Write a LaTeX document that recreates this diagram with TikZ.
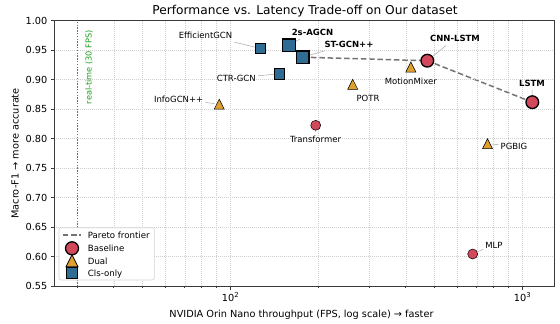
\documentclass[tikz,border=0pt]{standalone}
\usepackage{fontspec}
\setmainfont{DejaVu Sans}
\pgfdeclarelayer{bg}
\pgfsetlayers{bg,main}
\definecolor{cbase}{HTML}{D1495B}
\definecolor{cdual}{HTML}{DFA02E}
\definecolor{ccls}{HTML}{2E6C93}
\definecolor{gridc}{HTML}{CFCFCF}
\definecolor{paretoc}{HTML}{737373}
\definecolor{rtc}{HTML}{1E9A1E}
\definecolor{rtline}{HTML}{1FA51F}
\definecolor{framec}{HTML}{3A3A3A}
\tikzset{
  lbl/.style={font=\fontsize{8.5}{10}\selectfont, inner sep=2pt, text height=0.85em, text depth=0.13em},
  blbl/.style={lbl, font=\fontsize{8.5}{10}\selectfont\bfseries},
  leader/.style={draw=gray!70, line width=0.5pt},
  mkr/.style={draw=black, line width=0.5pt, inner sep=0pt, outer sep=0pt},
  basesm/.style={mkr, circle, fill=cbase, minimum size=10pt},
  basebig/.style={mkr, circle, fill=cbase, minimum size=12.7pt, line width=1.3pt},
  clssm/.style={mkr, rectangle, fill=ccls, minimum size=10.3pt},
  clsbig/.style={mkr, rectangle, fill=ccls, minimum size=12.5pt, line width=1.3pt},
  tnode/.style={circle, minimum size=9pt, inner sep=0pt},
  dualfill/.style={fill=cdual, draw=black, line width=0.5pt, line join=miter},
  ticklbl/.style={font=\fontsize{9.75}{11}\selectfont, text height=0.73em, text depth=0pt, inner sep=0pt},
  gridl/.style={draw=gridc, line width=0.45pt, dash pattern=on 0.9pt off 1.1pt},
  pareto/.style={draw=paretoc, line width=1.5pt, dash pattern=on 5.5pt off 2.8pt},
  legtxt/.style={font=\fontsize{8.6}{10}\selectfont, anchor=west, inner sep=0pt, text height=0.73em, text depth=0pt},
}
\newcommand{\dualmark}[3]{%
  \node[tnode] (#1) at (#2,#3) {};
  \draw[dualfill] (#2,#3) ++(0,-5) -- ++(5,10) -- ++(-10,0) -- cycle;}
\begin{document}
\begin{tikzpicture}[x=1pt,y=-1pt]
\useasboundingbox (0,0) rectangle (560,324);

% grid
\foreach \f in {40,50,60,70,80,90,100,200,300,400,500,600,700,800,900,1000}{
  \pgfmathsetmacro{\gx}{230+292*(log10(\f)-2)}
  \draw[gridl] (\gx,20.7) -- (\gx,286);
}
\foreach \v in {0.60,0.65,0.70,0.75,0.80,0.85,0.90,0.95}{
  \pgfmathsetmacro{\gy}{20.7+(1-\v)*590}
  \draw[gridl] (54,\gy) -- (554,\gy);
}
% real-time line (dotted, drawn as green dots)
\foreach \i in {0,...,94}{
  \fill[rtline] (76.9,{21.8+\i*2.8}) rectangle ++(1.3,1.4);
}

% title
\node[font=\fontsize{12.2}{14}\selectfont, anchor=base, inner sep=0pt] (title) at (305,15) {Performance vs. Latency Trade-off on Our dataset};

% markers
\node[clssm] (effgcn) at (260.3,48.5) {};
\node[clssm] (ctrgcn) at (279.5,73.7) {};
\node[clsbig] (agcn) at (289,45.3) {};
\node[clsbig] (stgcn) at (302.7,57.2) {};
\node[basebig] (cnnlstm) at (427.3,60.7) {};
\node[basebig] (lstm) at (532.3,102.2) {};
\node[basesm] (transf) at (315.7,125.3) {};
\node[basesm] (mlp) at (472.7,254) {};
\dualmark{infogcn}{219.2}{104.2}
\dualmark{mmixer}{410.9}{67}
\dualmark{potr}{352.7}{84.3}
\dualmark{pgbig}{487.5}{143.7}

% labels
\node[lbl] (l-eff) at (205.5,35) {EfficientGCN};
\node[lbl] (l-ctr) at (236.3,78) {CTR-GCN};
\node[lbl] (l-info) at (178.7,99) {InfoGCN++};
\node[blbl] (l-agcn) at (312.5,31.7) {2s-AGCN};
\node[blbl] (l-st) at (349,43.7) {ST-GCN++};
\node[blbl] (l-cnn) at (455,38.3) {CNN-LSTM};
\node[blbl] (l-lstm) at (532,83) {LSTM};
\node[lbl] (l-mm) at (410.8,80.8) {MotionMixer};
\node[lbl] (l-potr) at (368,98) {POTR};
\node[lbl] (l-tr) at (315.5,139.3) {Transformer};
\node[lbl] (l-pg) at (514,146) {PGBIG};
\node[lbl] (l-mlp) at (494,244.5) {MLP};

% real-time label
\node[font=\fontsize{8.2}{10}\selectfont, text=rtc, rotate=90, anchor=east, inner sep=0pt, text height=0.73em, text depth=0pt] (rt) at (88,30) {real-time (30 FPS)};

\begin{pgfonlayer}{bg}
  % pareto frontier
  \draw[pareto] (stgcn.center) -- (cnnlstm.center) -- (lstm.center);
  % leaders
  \draw[leader] (l-eff) -- (effgcn);
  \draw[leader] (l-ctr) -- (ctrgcn);
  \draw[leader] (l-info) -- (infogcn);
  \draw[leader] (l-agcn) -- (agcn);
  \draw[leader] (l-st) -- (stgcn);
  \draw[leader] (l-cnn) -- (cnnlstm);
  \draw[leader] (l-lstm) -- (lstm);
  \draw[leader] (l-tr) -- (transf);
  \draw[leader] (l-pg) -- (pgbig);
  \draw[leader] (l-mlp) -- (mlp);
\end{pgfonlayer}

% legend
\node[draw=gray!35, fill=white, rounded corners=2pt, minimum width=95.3pt, minimum height=52.3pt, inner sep=0pt, line width=0.6pt] (legend) at (106.65,253.85) {};
\coordinate (lg-d1) at (62.7,235);
\coordinate (lg-d2) at (81,235);
\draw[pareto] (lg-d1) -- (lg-d2);
\node[legtxt] (lg-t1) at (87.7,235) {Pareto frontier};
\node[basebig, minimum size=13pt] (lg-base) at (72,248.3) {};
\node[legtxt] (lg-t2) at (87.7,248.3) {Baseline};
\draw[dualfill, line width=0.8pt] (72,260.7) ++(0,-6) -- ++(6,12) -- ++(-12,0) -- cycle;
\node[legtxt] (lg-t3) at (87.7,260.7) {Dual};
\node[clssm, minimum size=11pt, line width=0.8pt] (lg-cls) at (72,273.3) {};
\node[legtxt] (lg-t4) at (87.7,273.3) {Cls-only};

% axes frame
\draw[framec, line width=0.8pt] (54,20.7) rectangle (554,286);

% y ticks
\foreach \v/\t in {1.00/1.00,0.95/0.95,0.90/0.90,0.85/0.85,0.80/0.80,0.75/0.75,0.70/0.70,0.65/0.65,0.60/0.60,0.55/0.55}{
  \pgfmathsetmacro{\ty}{20.7+(1-\v)*590}
  \draw[framec, line width=0.8pt] (54,\ty) -- (50.5,\ty);
  \node[ticklbl, anchor=east] at (47.5,\ty) {\t};
}
% x ticks
\foreach \f in {30,40,50,60,70,80,90,200,300,400,500,600,700,800,900}{
  \pgfmathsetmacro{\tx}{230+292*(log10(\f)-2)}
  \draw[framec, line width=0.6pt] (\tx,286) -- (\tx,288.2);
}
\draw[framec, line width=0.8pt] (230,286) -- (230,289.5);
\draw[framec, line width=0.8pt] (522,286) -- (522,289.5);
\node[font=\fontsize{9.75}{11}\selectfont, anchor=base, inner sep=0pt] (xt2) at (230.5,301) {10\textsuperscript{2}};
\node[font=\fontsize{9.75}{11}\selectfont, anchor=base, inner sep=0pt] (xt3) at (522.5,301) {10\textsuperscript{3}};

% axis labels
\node[font=\fontsize{9.75}{11}\selectfont, anchor=base, inner sep=0pt] (xlab) at (301.5,317.5) {NVIDIA Orin Nano throughput (FPS, log scale) → faster};
\node[font=\fontsize{9.75}{11}\selectfont, rotate=90, inner sep=0pt, text height=0.73em, text depth=0pt] (ylab) at (15,153.4) {Macro-F1 → more accurate};
\end{tikzpicture}
\end{document}
